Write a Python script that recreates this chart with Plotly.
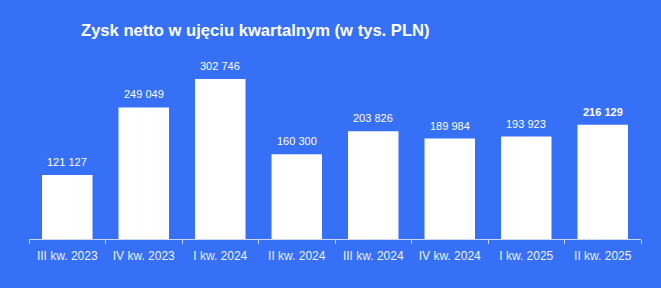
import plotly.graph_objects as go

categories = ["III kw. 2023", "IV kw. 2023", "I kw. 2024", "II kw. 2024",
              "III kw. 2024", "IV kw. 2024", "I kw. 2025", "II kw. 2025"]
values = [121127, 249049, 302746, 160300, 203826, 189984, 193923, 216129]
value_labels = ["121 127", "249 049", "302 746", "160 300",
                "203 826", "189 984", "193 923", "216 129"]

BG = "#3670F7"

fig = go.Figure()
fig.add_trace(go.Bar(x=categories, y=values, marker=dict(color="white", line=dict(width=0)),
                     width=0.66, hoverinfo="skip"))

for i, (c, v, t) in enumerate(zip(categories, values, value_labels)):
    fig.add_annotation(x=c, y=v, text=("<b>%s</b>" % t) if i == len(values) - 1 else t,
                       showarrow=False, yanchor="bottom", yshift=5,
                       font=dict(family="Liberation Sans, Arial", size=11, color="white"))

fig.update_layout(
    width=661, height=288,
    paper_bgcolor=BG, plot_bgcolor=BG,
    margin=dict(l=29, r=20, t=60, b=49),
    showlegend=False,
    title=dict(text="<b>Zysk netto w ujęciu kwartalnym (w tys. PLN)</b>",
               x=81/661, xanchor="left", y=1 - 30.5/288, yanchor="middle",
               font=dict(family="Liberation Sans, Arial", size=16.6, color="white")),
    xaxis=dict(showline=True, linecolor="#c9d6f5", linewidth=1,
               ticks="outside", tickcolor="#c9d6f5", ticklen=4, tickwidth=1,
               tickson="boundaries", showgrid=False, ticklabelstandoff=6,
               tickfont=dict(family="Liberation Sans, Arial", size=12, color="#eef2fd"),
               range=[-0.5, 7.5]),
    yaxis=dict(visible=False, range=[0, 302746 * 179 / 160], showgrid=False, zeroline=False),
    bargap=0.34,
)

fig.write_html("out.html")
